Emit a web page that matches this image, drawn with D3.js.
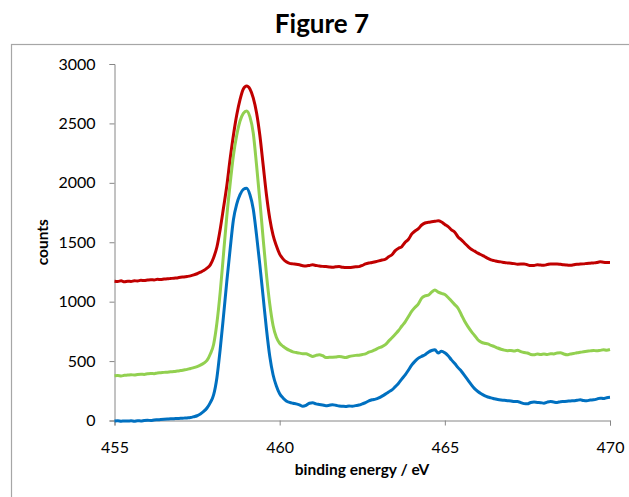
<!DOCTYPE html>
<html>
<head>
<meta charset="utf-8">
<script src="https://cdn.jsdelivr.net/npm/d3@7"></script>
<style>
  body { margin: 0; background: #fff; }
  svg text { font-family: Lato, "Open Sans", sans-serif; fill: #000; }
</style>
</head>
<body>
<svg id="chart" width="629" height="497"></svg>
<script>
// binding energy grid (eV)
var energy = [
  455.0,455.1,455.2,455.3,455.4,455.5,455.6,455.7,455.8,455.9,
  456.0,456.1,456.2,456.3,456.4,456.5,456.6,456.7,456.8,456.9,
  457.0,457.1,457.2,457.3,457.4,457.5,457.6,457.7,457.8,457.9,
  458.0,458.1,458.2,458.3,458.4,458.5,458.6,458.7,458.8,458.9,
  459.0,459.1,459.2,459.3,459.4,459.5,459.6,459.7,459.8,459.9,
  460.0,460.1,460.2,460.3,460.4,460.5,460.6,460.7,460.8,460.9,
  461.0,461.1,461.2,461.3,461.4,461.5,461.6,461.7,461.8,461.9,
  462.0,462.1,462.2,462.3,462.4,462.5,462.6,462.7,462.8,462.9,
  463.0,463.1,463.2,463.3,463.4,463.5,463.6,463.7,463.8,463.9,
  464.0,464.1,464.2,464.3,464.4,464.5,464.6,464.7,464.8,464.9,
  465.0,465.1,465.2,465.3,465.4,465.5,465.6,465.7,465.8,465.9,
  466.0,466.1,466.2,466.3,466.4,466.5,466.6,466.7,466.8,466.9,
  467.0,467.1,467.2,467.3,467.4,467.5,467.6,467.7,467.8,467.9,
  468.0,468.1,468.2,468.3,468.4,468.5,468.6,468.7,468.8,468.9,
  469.0,469.1,469.2,469.3,469.4,469.5,469.6,469.7,469.8,469.9,
  470.0
];

var redCounts = [
  1172,1170,1175,1168,1172,1170,1176,1174,1180,1178,
  1182,1185,1183,1188,1186,1190,1192,1195,1198,1200,
  1205,1208,1212,1217,1225,1235,1248,1262,1282,1310,
  1370,1460,1610,1790,1975,2200,2400,2570,2700,2790,
  2815,2790,2715,2590,2400,2150,1900,1700,1560,1470,
  1400,1360,1335,1322,1318,1315,1310,1303,1301,1305,
  1310,1305,1300,1297,1295,1292,1290,1293,1295,1290,
  1287,1288,1290,1293,1295,1305,1318,1325,1329,1336,
  1343,1350,1357,1378,1395,1430,1450,1464,1500,1525,
  1570,1595,1615,1645,1662,1668,1672,1676,1680,1670,
  1650,1632,1605,1585,1545,1520,1492,1465,1441,1425,
  1408,1395,1380,1365,1352,1345,1338,1335,1329,1326,
  1324,1320,1315,1316,1318,1310,1304,1305,1310,1308,
  1306,1312,1318,1316,1318,1314,1310,1308,1306,1310,
  1315,1316,1318,1322,1324,1326,1329,1335,1332,1330,
  1329
];

var greenCounts = [
  376,378,375,380,382,385,383,388,390,388,
  393,396,394,400,402,405,407,410,412,416,
  420,425,430,438,445,454,466,482,505,560,
  640,820,1080,1400,1720,1990,2230,2400,2520,2585,
  2605,2555,2420,2150,1850,1530,1230,980,800,700,
  650,625,605,590,578,572,567,562,561,550,
  539,548,553,545,530,532,533,535,539,535,
  530,538,544,548,550,555,561,575,584,597,
  611,622,639,668,696,726,757,795,830,875,
  920,952,982,1030,1048,1055,1080,1099,1080,1070,
  1060,1035,1005,975,945,890,835,790,750,715,
  680,660,650,645,632,622,610,600,592,588,
  590,585,592,580,572,568,556,553,560,556,
  560,556,562,560,568,570,560,553,560,564,
  570,574,578,582,586,590,586,590,595,592,
  597
];

var blueCounts = [
  -5,-3,-6,-4,-5,-3,-6,-2,-4,0,
  2,0,4,6,8,10,12,14,15,17,
  18,20,22,25,32,40,55,76,105,150,
  215,360,600,880,1170,1440,1690,1820,1900,1945,
  1955,1900,1780,1560,1310,1040,770,540,385,290,
  225,190,165,152,145,140,132,120,128,145,
  150,140,135,130,125,128,132,128,122,120,
  118,122,120,125,130,140,150,165,175,180,
  190,205,222,240,258,285,314,350,384,425,
  468,500,525,540,553,575,589,595,567,583,
  570,545,510,480,445,415,378,340,302,268,
  244,225,210,198,190,183,176,172,170,167,
  165,160,160,150,142,140,152,155,152,150,
  146,155,160,155,152,158,160,162,165,166,
  170,174,168,166,172,174,180,188,185,192,
  195
];

var seriesColors = ["#C00000", "#92D050", "#0070C0"];
var xTicks = [455, 460, 465, 470];
var yTicks = [0, 500, 1000, 1500, 2000, 2500, 3000];

var svg = d3.select("#chart");

// outer chart frame (cut off at right and bottom)
svg.append("rect")
  .attr("x", 11.5).attr("y", 44.5)
  .attr("width", 700).attr("height", 600)
  .attr("fill", "none")
  .attr("stroke", "#a6a6a6")
  .attr("stroke-width", 1.2);

svg.append("text")
  .attr("x", 322).attr("y", 33)
  .attr("text-anchor", "middle")
  .style("font-weight", "bold")
  .style("font-size", "26px")
  .text("Figure 7");

var x = d3.scaleLinear().domain([455, 470]).range([114.5, 610]);
var y = d3.scaleLinear().domain([0, 3000]).range([420.5, 64]);

var gx = svg.append("g")
  .attr("transform", "translate(0," + y(0) + ")")
  .call(d3.axisBottom(x).tickValues(xTicks).tickSize(5).tickPadding(16).tickFormat(d3.format("d")));

var gy = svg.append("g")
  .attr("transform", "translate(" + x(455) + ",0)")
  .call(d3.axisLeft(y).tickValues(yTicks).tickSize(5).tickPadding(14).tickFormat(d3.format("d")));

[gx, gy].forEach(function(g) {
  g.select(".domain").attr("stroke", "#868686");
  g.selectAll(".tick line").attr("stroke", "#868686");
  g.selectAll(".tick text").style("font-size", "16px").attr("fill", "#000");
});

svg.append("text")
  .attr("x", 362).attr("y", 475)
  .attr("text-anchor", "middle")
  .style("font-weight", "bold")
  .style("font-size", "15.5px")
  .text("binding energy / eV");

svg.append("text")
  .attr("transform", "translate(48," + y(1500) + ") rotate(-90)")
  .attr("text-anchor", "middle")
  .style("font-weight", "bold")
  .style("font-size", "15.5px")
  .text("counts");

var line = d3.line()
  .x(function(d) { return x(d[0]); })
  .y(function(d) { return y(d[1]); })
  .curve(d3.curveMonotoneX);

[redCounts, greenCounts, blueCounts].forEach(function(vals, i) {
  svg.append("path")
    .datum(energy.map(function(e, j) { return [e, vals[j]]; }))
    .attr("fill", "none")
    .attr("stroke", seriesColors[i])
    .attr("stroke-width", 3)
    .attr("stroke-linejoin", "round")
    .attr("d", line);
});
</script>
</body>
</html>
